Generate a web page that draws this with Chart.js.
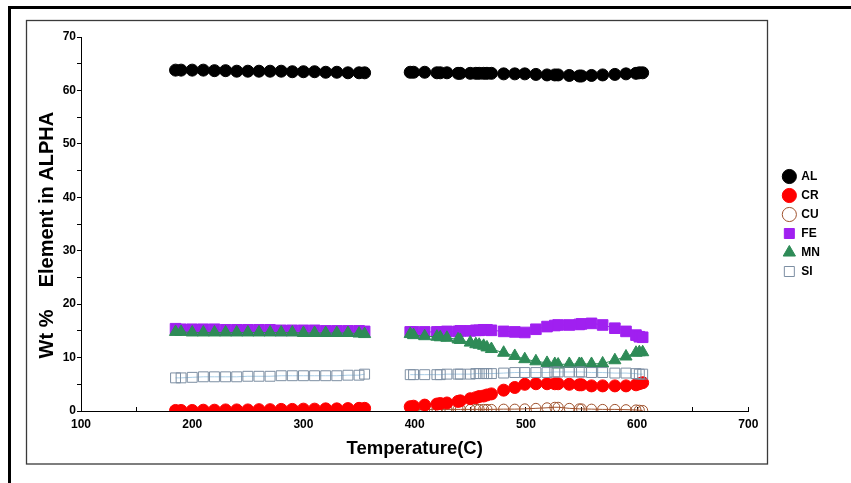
<!DOCTYPE html>
<html>
<head>
<meta charset="utf-8">
<script src="https://cdn.jsdelivr.net/npm/chart.js@4/dist/chart.umd.min.js"></script>
<style>
  html, body { margin: 0; padding: 0; background: #fff; }
  #wrap { width: 851px; height: 483px; position: relative; }
</style>
</head>
<body>
<div id="wrap"><canvas id="c" width="851" height="483"></canvas></div>
<script>
// ---- data ----
const seriesNames = ['AL', 'CR', 'CU', 'FE', 'MN', 'SI'];
const tempLow  = [185, 190, 200, 210, 220, 230, 240, 250, 260, 270, 280, 290, 300, 310, 320, 330, 340, 350, 355];
const tempHigh = [396, 399, 409, 420, 423, 429, 439, 441, 450, 455, 458, 462, 465, 469, 480, 490, 499, 509, 519, 526, 529, 539, 548, 550, 559, 569, 580, 590, 599, 602, 605];

const AL_low  = [63.8, 63.8, 63.8, 63.8, 63.7, 63.7, 63.6, 63.6, 63.6, 63.6, 63.6, 63.5, 63.5, 63.5, 63.4, 63.4, 63.3, 63.3, 63.3];
const AL_high = [63.4, 63.4, 63.4, 63.3, 63.3, 63.3, 63.2, 63.2, 63.2, 63.2, 63.2, 63.2, 63.2, 63.2, 63.1, 63.1, 63.1, 63.0, 62.9, 62.9, 62.9, 62.8, 62.7, 62.7, 62.8, 62.9, 63.0, 63.1, 63.2, 63.3, 63.3];

const CR_low  = [0.1, 0.1, 0.1, 0.15, 0.15, 0.2, 0.2, 0.2, 0.25, 0.25, 0.3, 0.3, 0.35, 0.35, 0.4, 0.4, 0.45, 0.5, 0.5];
const CR_high = [0.8, 0.9, 1.1, 1.3, 1.4, 1.5, 1.8, 1.9, 2.3, 2.5, 2.7, 2.8, 3.0, 3.2, 3.9, 4.4, 5.0, 5.1, 5.1, 5.1, 5.1, 5.0, 4.9, 4.9, 4.7, 4.7, 4.7, 4.7, 4.9, 5.1, 5.3];

const CU_low  = [0.1, 0.1, 0.1, 0.1, 0.1, 0.1, 0.1, 0.1, 0.1, 0.1, 0.1, 0.1, 0.1, 0.1, 0.1, 0.1, 0.1, 0.1, 0.1];
const CU_high = [0.3, 0.3, 0.3, 0.3, 0.3, 0.3, 0.3, 0.3, 0.3, 0.3, 0.3, 0.3, 0.3, 0.3, 0.35, 0.35, 0.4, 0.5, 0.6, 0.7, 0.7, 0.5, 0.4, 0.4, 0.35, 0.3, 0.3, 0.25, 0.2, 0.15, 0.1];

const FE_low  = [15.4, 15.3, 15.3, 15.3, 15.3, 15.2, 15.2, 15.2, 15.2, 15.2, 15.1, 15.1, 15.1, 15.1, 15.0, 15.0, 15.0, 15.0, 14.9];
const FE_high = [14.8, 14.8, 14.8, 14.8, 14.8, 14.9, 14.9, 15.0, 15.0, 15.1, 15.1, 15.2, 15.2, 15.1, 14.9, 14.8, 14.7, 15.3, 15.8, 16.0, 16.1, 16.1, 16.2, 16.3, 16.4, 16.1, 15.5, 14.9, 14.2, 13.9, 13.8];

const MN_low  = [14.8, 14.8, 14.7, 14.7, 14.7, 14.7, 14.7, 14.7, 14.7, 14.7, 14.7, 14.7, 14.6, 14.6, 14.6, 14.6, 14.6, 14.5, 14.4];
const MN_high = [14.4, 14.2, 14.0, 13.9, 13.8, 13.7, 13.4, 13.3, 12.8, 12.5, 12.4, 12.2, 11.9, 11.6, 10.9, 10.3, 9.7, 9.3, 9.0, 8.8, 8.7, 8.8, 8.8, 8.8, 8.8, 8.9, 9.5, 10.2, 10.9, 11.0, 11.0];

const SI_low  = [6.2, 6.2, 6.3, 6.4, 6.4, 6.4, 6.4, 6.5, 6.5, 6.5, 6.6, 6.6, 6.6, 6.6, 6.6, 6.6, 6.7, 6.7, 6.9];
const SI_high = [6.8, 6.8, 6.8, 6.8, 6.8, 6.9, 6.9, 6.9, 6.9, 7.0, 7.0, 7.0, 7.0, 7.0, 7.1, 7.2, 7.2, 7.2, 7.2, 7.3, 7.3, 7.3, 7.3, 7.3, 7.2, 7.2, 7.1, 7.1, 7.0, 6.9, 6.9];

const xTickLabels = [100, 200, 300, 400, 500, 600, 700];
const yTickLabels = [0, 10, 20, 30, 40, 50, 60, 70];

// ---- build points (null point breaks the line between the two runs) ----
function pts(low, high) {
  const a = tempLow.map((t, i) => ({ x: t, y: low[i] }));
  a.push({ x: (tempLow[tempLow.length - 1] + tempHigh[0]) / 2, y: null });
  return a.concat(tempHigh.map((t, i) => ({ x: t, y: high[i] })));
}

const FONT = "'Liberation Sans', Arial, sans-serif";

const datasets = [
  { label: 'AL', data: pts(AL_low, AL_high), borderColor: '#000000', backgroundColor: '#000000',
    pointStyle: 'circle', pointRadius: 6, pointBorderWidth: 1, order: 0 },
  { label: 'CR', data: pts(CR_low, CR_high), borderColor: '#ff0000', backgroundColor: '#ff0000',
    pointStyle: 'circle', pointRadius: 6, pointBorderWidth: 1, order: 1 },
  { label: 'CU', data: pts(CU_low, CU_high), borderColor: '#a0522d', backgroundColor: 'rgba(0,0,0,0)',
    pointStyle: 'circle', pointRadius: 5, pointBorderWidth: 1, order: 2 },
  { label: 'FE', data: pts(FE_low, FE_high), borderColor: '#a020f0', backgroundColor: '#a020f0',
    pointStyle: 'rect', pointRadius: 7.5, pointBorderWidth: 1, order: 3 },
  { label: 'MN', data: pts(MN_low, MN_high), borderColor: '#2e8b57', backgroundColor: '#2e8b57',
    pointStyle: 'triangle', pointRadius: 7, pointBorderWidth: 1, order: 1 },
  { label: 'SI', data: pts(SI_low, SI_high), borderColor: '#a9cde6', backgroundColor: 'rgba(0,0,0,0)',
    pointBorderColor: '#7d8fa3', pointStyle: 'rect', pointRadius: 7, pointBorderWidth: 1, order: 0 }
];
datasets.forEach(d => { d.showLine = true; d.borderWidth = 1; d.spanGaps = false; d.pointHoverRadius = d.pointRadius; });

const frame = {
  id: 'frame',
  beforeDraw(chart) {
    const ctx = chart.ctx;
    ctx.save();
    ctx.fillStyle = '#ffffff';
    ctx.fillRect(0, 0, chart.width, chart.height);
    ctx.strokeStyle = '#000000';
    ctx.lineWidth = 3;
    ctx.beginPath();
    ctx.moveTo(8, 7.5); ctx.lineTo(851, 7.5);
    ctx.moveTo(9.5, 6); ctx.lineTo(9.5, 483);
    ctx.stroke();
    ctx.strokeStyle = '#3a3a3a';
    ctx.lineWidth = 1.3;
    ctx.strokeRect(26.5, 20.5, 741, 443.5);
    ctx.restore();
  }
};

new Chart(document.getElementById('c'), {
  type: 'scatter',
  data: { datasets },
  plugins: [frame],
  options: {
    responsive: false,
    devicePixelRatio: 1,
    animation: false,
    events: [],
    layout: { padding: { top: 37, left: 28, bottom: 20, right: 21 } },
    plugins: {
      tooltip: { enabled: false },
      legend: {
        position: 'right',
        fullSize: false,
        labels: {
          usePointStyle: true,
          boxWidth: 12,
          boxHeight: 10,
          padding: 7,
          color: '#000',
          font: { family: FONT, size: 12, weight: 'bold' },
          sort: (a, b) => a.datasetIndex - b.datasetIndex
        }
      }
    },
    scales: {
      x: {
        type: 'linear',
        min: 100, max: 700,
        afterFit(s) { s.height = 483 - 20 - 411; },
        border: { display: true, color: '#000', width: 1 },
        grid: { display: true, drawOnChartArea: false, color: '#000', tickLength: -4 },
        ticks: {
          stepSize: 50, padding: 10, color: '#000', maxRotation: 0,
          font: { family: FONT, size: 12, weight: 'bold' },
          callback: v => xTickLabels.includes(v) ? String(v) : ''
        },
        title: { display: true, text: 'Temperature(C)', color: '#000',
          font: { family: FONT, size: 18.5, weight: 'bold' }, padding: { top: 0, bottom: 3 } }
      },
      y: {
        type: 'linear',
        min: 0, max: 70,
        afterFit(s) { s.width = 81 - 28; },
        border: { display: true, color: '#000', width: 1 },
        grid: { display: true, drawOnChartArea: false, color: '#000', tickLength: 4 },
        ticks: {
          stepSize: 5, padding: 1, color: '#000',
          font: { family: FONT, size: 12, weight: 'bold' },
          callback: v => yTickLabels.includes(v) ? String(v) : ''
        },
        title: { display: true, text: 'Wt %    Element in ALPHA    ', color: '#000',
          font: { family: FONT, size: 20, weight: 'bold' }, padding: { top: 7, bottom: 0 } }
      },
      gap: {
        type: 'linear', position: 'right', display: true,
        afterFit(s) { s.width = 28; },
        grid: { display: false }, border: { display: false }, ticks: { display: false }
      }
    }
  }
});
</script>
</body>
</html>
